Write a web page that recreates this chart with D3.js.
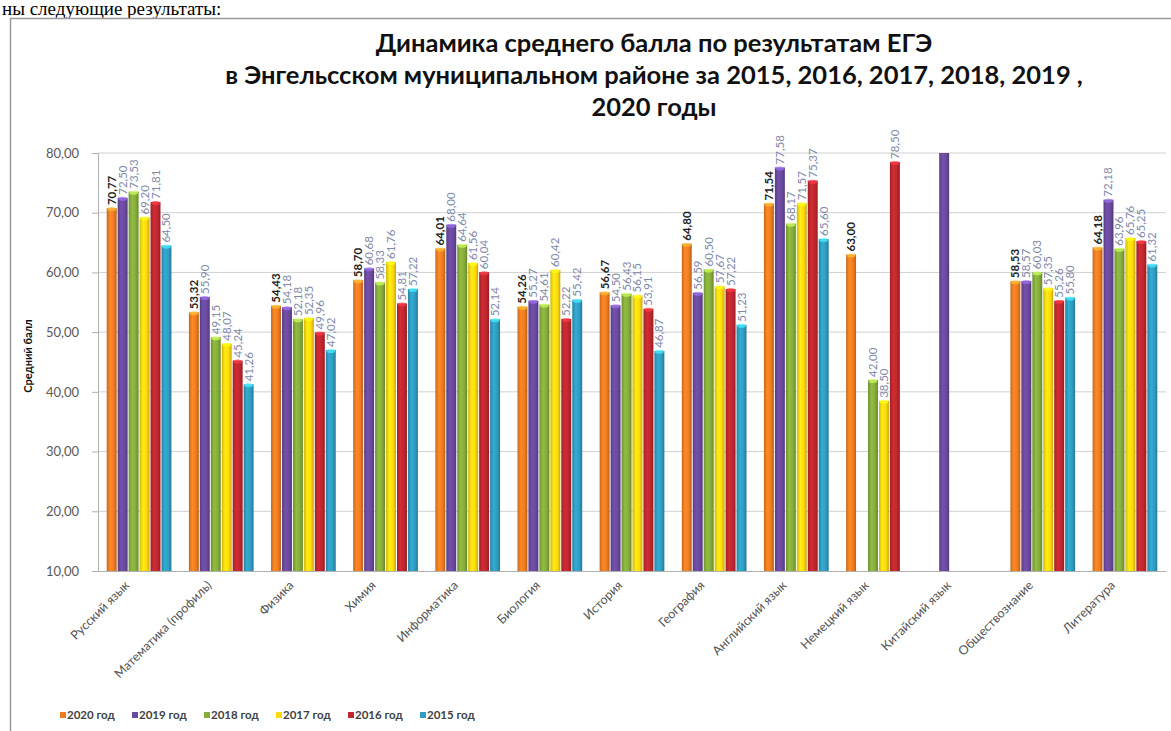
<!DOCTYPE html>
<html><head><meta charset="utf-8">
<script src="https://cdn.jsdelivr.net/npm/d3@7/dist/d3.min.js"></script>
<style>
html,body{margin:0;padding:0;background:#fff;}
svg{display:block;}
</style></head>
<body>
<svg id="chart" width="1171" height="731"></svg>
<script>
const categories = ["Русский язык","Математика (профиль)","Физика","Химия","Информатика","Биология","История","География","Английский язык","Немецкий язык","Китайский язык","Обществознание","Литература"];
const years = ["2020 год","2019 год","2018 год","2017 год","2016 год","2015 год"];
const v2020 = [70.77,53.32,54.43,58.70,64.01,54.26,56.67,64.80,71.54,63.00,null,58.53,64.18];
const v2019 = [72.50,55.90,54.18,60.68,68.00,55.27,54.50,56.59,77.58,null,80.00,58.57,72.18];
const v2018 = [73.53,49.15,52.18,58.33,64.64,54.61,56.43,60.50,68.17,42.00,null,60.03,63.96];
const v2017 = [69.20,48.07,52.35,61.76,61.56,60.42,56.15,57.67,71.57,38.50,null,57.35,65.76];
const v2016 = [71.81,45.24,49.96,54.81,60.04,52.22,53.91,57.22,75.37,78.50,null,55.26,65.25];
const v2015 = [64.50,41.26,47.02,57.22,52.14,55.42,46.87,51.23,65.60,null,null,55.80,61.32];
const series = [v2020,v2019,v2018,v2017,v2016,v2015];
const colors = ["#ee7d22","#6a4a9e","#86ad3c","#ffd90f","#c0272f","#2f9dc2"];
const yTicks = [10,20,30,40,50,60,70,80];
const titleLines = ["Динамика среднего балла по результатам ЕГЭ","в Энгельсском муниципальном районе за 2015, 2016, 2017, 2018,  2019 ,","2020 годы"];
const yTitle = "Средний балл";

const svg = d3.select("#chart");
const W = 1171, H = 731;
const m = {left:98, right:1166, top:153, bottom:571};
const fmt = v => d3.format(".2f")(v).replace(".", ",");

// page text remnant (document text above the chart)
svg.append("text").attr("x",2).attr("y",15).attr("font-family","Liberation Serif")
  .attr("font-size",19).attr("fill","#000").text("ны следующие результаты:");

// chart frame
svg.append("rect").attr("x",10.5).attr("y",18.5).attr("width",W).attr("height",H)
  .attr("fill","none").attr("stroke","#9a9a9a").attr("stroke-width",1.5);

// gradients
const defs = svg.append("defs");
colors.forEach((c,i)=>{
  const g = defs.append("linearGradient").attr("id","g"+i).attr("x1","0").attr("x2","1").attr("y1","0").attr("y2","0");
  const cc = d3.color(c);
  g.append("stop").attr("offset","0%").attr("stop-color",cc.darker(0.5));
  g.append("stop").attr("offset","35%").attr("stop-color",cc.brighter(0.25));
  g.append("stop").attr("offset","70%").attr("stop-color",c);
  g.append("stop").attr("offset","100%").attr("stop-color",cc.darker(0.7));
});

const x = d3.scaleBand().domain(categories).range([m.left,m.right]).paddingInner(0.2).paddingOuter(0.1);
const x1 = d3.scaleBand().domain(d3.range(years.length)).range([0,x.bandwidth()]);
const y = d3.scaleLinear().domain([10,80]).range([m.bottom,m.top]);

// gridlines
svg.append("g").selectAll("line").data(yTicks.slice(1)).join("line")
  .attr("x1",m.left).attr("x2",m.right).attr("y1",d=>y(d)).attr("y2",d=>y(d))
  .attr("stroke","#d0d0d0").attr("stroke-width",1);

// y axis
const yAxis = svg.append("g").attr("transform",`translate(${m.left},0)`)
  .call(d3.axisLeft(y).tickValues(yTicks).tickFormat(fmt).tickSize(6).tickPadding(13));
yAxis.select(".domain").attr("stroke","#b0b0b0");
yAxis.selectAll(".tick line").attr("stroke","#b0b0b0");
yAxis.selectAll("text").attr("font-family","Lato").attr("font-size",13).attr("fill","#595959");

// x axis
const xAxis = svg.append("g").attr("transform",`translate(0,${m.bottom})`)
  .call(d3.axisBottom(x).tickSize(0).tickPadding(8));
xAxis.select(".domain").attr("stroke","#b0b0b0");
xAxis.selectAll(".tick text")
  .attr("font-family","Lato").attr("font-size",12.5).attr("fill","#555")
  .attr("text-anchor","end").attr("x",0).attr("y",0).attr("dy","0.35em")
  .attr("transform","translate(-12,12) rotate(-45)");

// bars
series.forEach((s,si)=>{
  const data = s.map((v,ci)=>({v,ci})).filter(d=>d.v!=null);
  const g = svg.append("g");
  g.selectAll("rect").data(data).join("rect")
    .attr("x",d=>x(categories[d.ci])+x1(si)+0.5)
    .attr("width",x1.bandwidth()-1)
    .attr("y",d=>y(Math.min(d.v,80)))
    .attr("height",d=>y(10)-y(Math.min(d.v,80)))
    .attr("fill",`url(#g${si})`);
  // top highlight
  g.selectAll("ellipse").data(data.filter(d=>d.v<80)).join("ellipse")
    .attr("cx",d=>x(categories[d.ci])+x1(si)+x1.bandwidth()/2)
    .attr("cy",d=>y(d.v)+1)
    .attr("rx",x1.bandwidth()/2-1).attr("ry",2)
    .attr("fill",d3.color(colors[si]).brighter(1.2)).attr("opacity",0.7);
  // labels
  g.selectAll("text").data(data.filter(d=>d.v<80)).join("text")
    .attr("transform",d=>`translate(${x(categories[d.ci])+x1(si)+x1.bandwidth()/2+4},${y(d.v)-3}) rotate(-90)`)
    .attr("font-family","Lato").attr("font-size",11.5)
    .attr("font-weight",si===0?"bold":"normal")
    .attr("fill",si===0?"#222":"#8088a8")
    .text(d=>fmt(d.v));
});

// title
svg.append("g").selectAll("text").data(titleLines).join("text")
  .attr("x",654).attr("y",(d,i)=>52+i*32).attr("text-anchor","middle")
  .attr("font-family","Lato").attr("font-weight","bold").attr("font-size",25.5).attr("fill","#111")
  .text(d=>d);

// y title
svg.append("text").attr("transform","translate(32,356) rotate(-90)").attr("text-anchor","middle")
  .attr("font-family","Lato").attr("font-weight","bold").attr("font-size",11).attr("fill","#111").text(yTitle);

// legend
const leg = svg.append("g").selectAll("g").data(years).join("g")
  .attr("transform",(d,i)=>`translate(${60+i*72},717)`);
leg.append("rect").attr("x",0).attr("y",-5).attr("width",6).attr("height",6).attr("fill",(d,i)=>colors[i]);
leg.append("text").attr("x",7).attr("y",1.5).attr("font-family","Lato").attr("font-weight","bold")
  .attr("font-size",11.5).attr("fill","#404040").text(d=>d);
</script>
</body></html>
